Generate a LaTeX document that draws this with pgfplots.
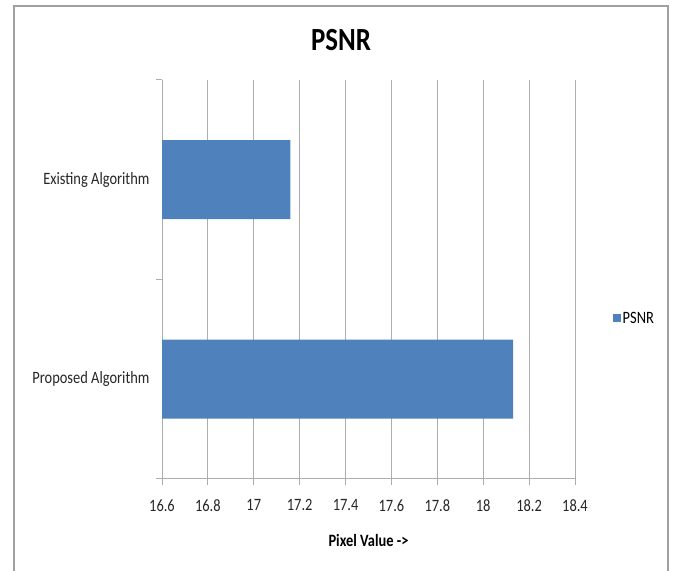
\documentclass[border=0pt]{standalone}
\usepackage{fontspec}
\setmainfont{Carlito}
\usepackage{graphicx}
\usepackage{pgfplots}
\pgfplotsset{compat=1.18}
\definecolor{barblue}{HTML}{4F81BD}
\definecolor{gridgray}{HTML}{ADADAD}
\definecolor{framegray}{HTML}{A0A0A0}
\newcommand\vs[1]{\scalebox{1}[1.2]{#1}}
\begin{document}
\begin{tikzpicture}[x=1bp,y=1bp]
\path[use as bounding box] (0,0) rectangle (678,571);
\draw[color=framegray, line width=1.3bp] (14,-2) -- (14,565) -- (668,565) -- (668,-2);
\node[font=\bfseries\fontsize{27}{30}\selectfont] at (341,531) {\vs{PSNR}};
\begin{axis}[
  at={(162bp,92bp)}, anchor=south west,
  scale only axis, width=413bp, height=399bp,
  xbar, bar width=79bp,
  xmin=16.6, xmax=18.4,
  xtick={16.6,16.8,17,17.2,17.4,17.6,17.8,18,18.2,18.4},
  xticklabels={\vs{16.6},\vs{16.8},\vs{17},\vs{17.2},\vs{17.4},\vs{17.6},\vs{17.8},\vs{18},\vs{18.2},\vs{18.4}},
  ymin=-0.5, ymax=1.5,
  ytick={-0.5,0.5,1.5},
  y tick label as interval,
  yticklabels={\vs{Proposed Algorithm},\vs{Existing Algorithm}},
  axis x line*=bottom, axis y line*=left,
  axis line style={gridgray, line width=1bp, -},
  xmajorgrids, grid style={gridgray, line width=1bp},
  tick style={gridgray, line width=1bp},
  tick align=outside, major tick length=6bp,
  ticklabel style={font=\fontsize{14.5}{16}\selectfont, text=black!85},
  xticklabel style={yshift=-11bp},
  yticklabel style={xshift=-3bp},
  xlabel={\bfseries\vs{Pixel Value ->}},
  xlabel style={font=\fontsize{14.5}{16}\selectfont, yshift=-16bp},
  legend style={at={(1.092,0.403)}, anchor=west, draw=none, fill=none,
    font=\fontsize{14.5}{16}\selectfont, inner sep=0pt},
  legend image code/.code={\fill[barblue] (0bp,-4bp) rectangle (7.5bp,4bp);},
  legend cell align=left,
]
\addplot[fill=barblue, draw=none] coordinates {(18.13,0) (17.16,1)};
\addlegendentry{\vs{PSNR}}
\end{axis}
\end{tikzpicture}
\end{document}
